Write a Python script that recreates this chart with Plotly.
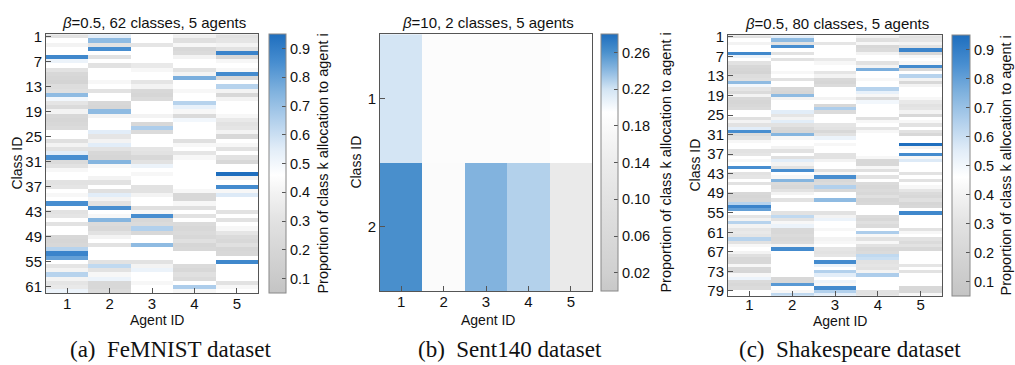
import plotly.graph_objects as go

# ---------------- data ----------------
agents = [1, 2, 3, 4, 5]
femnist_classes = list(range(1, 63))
sent140_classes = [1, 2]
shakespeare_classes = list(range(1, 81))

femnist_ticks = [1, 7, 13, 19, 25, 31, 37, 43, 49, 55, 61]
shakespeare_ticks = [1, 7, 13, 19, 25, 31, 37, 43, 49, 55, 61, 67, 73, 79]
cb_ticks_a = [0.1, 0.2, 0.3, 0.4, 0.5, 0.6, 0.7, 0.8, 0.9]
cb_ticks_b = [0.02, 0.06, 0.10, 0.14, 0.18, 0.22, 0.26]
cb_ticktext_b = ["0.02", "0.06", "0.10", "0.14", "0.18", "0.22", "0.26"]

# FeMNIST: proportion per class (rows) for each agent
femnist_agent1 = [0.30, 0.46, 0.40, 0.46, 0.46, 0.87, 0.52, 0.46, 0.30, 0.22,
                  0.20, 0.18, 0.26, 0.28, 0.72, 0.50, 0.32, 0.24, 0.40, 0.22,
                  0.20, 0.22, 0.24, 0.46, 0.46, 0.28, 0.40, 0.30, 0.55, 0.85,
                  0.24, 0.30, 0.42, 0.46, 0.46, 0.30, 0.32, 0.46, 0.42, 0.46,
                  0.85, 0.46, 0.30, 0.32, 0.46, 0.30, 0.46, 0.46, 0.22, 0.20,
                  0.22, 0.64, 0.88, 0.80, 0.46, 0.32, 0.40, 0.64, 0.40, 0.32,
                  0.34, 0.52]
femnist_agent2 = [0.55, 0.72, 0.30, 0.85, 0.46, 0.30, 0.46, 0.30, 0.46, 0.46,
                  0.46, 0.42, 0.46, 0.30, 0.46, 0.46, 0.22, 0.20, 0.72, 0.40,
                  0.46, 0.46, 0.46, 0.55, 0.32, 0.40, 0.55, 0.30, 0.22, 0.20,
                  0.74, 0.42, 0.46, 0.46, 0.40, 0.30, 0.46, 0.28, 0.55, 0.40,
                  0.30, 0.85, 0.46, 0.42, 0.74, 0.24, 0.22, 0.30, 0.40, 0.46,
                  0.30, 0.46, 0.46, 0.46, 0.30, 0.62, 0.30, 0.42, 0.52, 0.22,
                  0.22, 0.24]
femnist_agent3 = [0.46, 0.46, 0.32, 0.46, 0.46, 0.46, 0.46, 0.34, 0.42, 0.46,
                  0.46, 0.32, 0.40, 0.22, 0.20, 0.24, 0.46, 0.46, 0.46, 0.40,
                  0.46, 0.22, 0.66, 0.24, 0.46, 0.46, 0.46, 0.32, 0.30, 0.22,
                  0.30, 0.52, 0.46, 0.42, 0.46, 0.46, 0.30, 0.30, 0.40, 0.46,
                  0.46, 0.28, 0.42, 0.85, 0.22, 0.24, 0.65, 0.22, 0.46, 0.46,
                  0.72, 0.46, 0.46, 0.46, 0.30, 0.40, 0.52, 0.46, 0.46, 0.42,
                  0.46, 0.46]
femnist_agent4 = [0.38, 0.28, 0.42, 0.22, 0.24, 0.40, 0.46, 0.46, 0.30, 0.40,
                  0.76, 0.46, 0.46, 0.42, 0.46, 0.46, 0.64, 0.53, 0.42, 0.24,
                  0.50, 0.46, 0.46, 0.46, 0.46, 0.28, 0.42, 0.46, 0.32, 0.42,
                  0.46, 0.46, 0.46, 0.46, 0.46, 0.46, 0.46, 0.42, 0.22, 0.22,
                  0.42, 0.28, 0.46, 0.30, 0.46, 0.24, 0.22, 0.24, 0.22, 0.28,
                  0.20, 0.22, 0.46, 0.46, 0.46, 0.24, 0.22, 0.28, 0.24, 0.46,
                  0.66, 0.42]
femnist_agent5 = [0.30, 0.32, 0.40, 0.30, 0.88, 0.22, 0.42, 0.46, 0.42, 0.86,
                  0.22, 0.46, 0.64, 0.40, 0.22, 0.40, 0.46, 0.46, 0.46, 0.42,
                  0.34, 0.30, 0.32, 0.40, 0.22, 0.46, 0.42, 0.30, 0.46, 0.30,
                  0.22, 0.46, 0.46, 0.95, 0.40, 0.46, 0.86, 0.42, 0.56, 0.46,
                  0.46, 0.46, 0.30, 0.46, 0.30, 0.46, 0.42, 0.32, 0.24, 0.22,
                  0.28, 0.20, 0.22, 0.46, 0.87, 0.46, 0.46, 0.46, 0.46, 0.30,
                  0.42, 0.46]

# Sent140: rows = class 1, class 2; columns = agents
sent140_class1 = [0.219, 0.187, 0.187, 0.187, 0.195]
sent140_class2 = [0.261, 0.184, 0.243, 0.229, 0.133]

# Shakespeare
shakespeare_agent1 = [0.30, 0.46, 0.40, 0.46, 0.46, 0.87, 0.52, 0.46, 0.30, 0.22,
                      0.20, 0.18, 0.26, 0.28, 0.72, 0.50, 0.32, 0.24, 0.40, 0.22,
                      0.20, 0.22, 0.24, 0.46, 0.46, 0.28, 0.40, 0.30, 0.55, 0.85,
                      0.24, 0.30, 0.42, 0.46, 0.46, 0.30, 0.32, 0.46, 0.42, 0.46,
                      0.85, 0.46, 0.30, 0.32, 0.46, 0.30, 0.46, 0.46, 0.22, 0.20,
                      0.22, 0.64, 0.88, 0.80, 0.46, 0.32, 0.40, 0.64, 0.40, 0.32,
                      0.34, 0.32, 0.64, 0.30, 0.42, 0.46, 0.40, 0.28, 0.22, 0.22,
                      0.42, 0.22, 0.20, 0.42, 0.52, 0.24, 0.22, 0.24, 0.46, 0.46]
shakespeare_agent2 = [0.55, 0.72, 0.30, 0.85, 0.46, 0.30, 0.46, 0.30, 0.46, 0.46,
                      0.46, 0.42, 0.46, 0.30, 0.46, 0.46, 0.22, 0.20, 0.72, 0.40,
                      0.46, 0.46, 0.46, 0.55, 0.32, 0.40, 0.55, 0.30, 0.22, 0.20,
                      0.74, 0.42, 0.46, 0.46, 0.40, 0.30, 0.46, 0.28, 0.55, 0.40,
                      0.30, 0.85, 0.46, 0.42, 0.74, 0.24, 0.22, 0.30, 0.40, 0.46,
                      0.30, 0.46, 0.46, 0.46, 0.30, 0.62, 0.30, 0.42, 0.52, 0.22,
                      0.22, 0.24, 0.22, 0.24, 0.40, 0.86, 0.46, 0.46, 0.46, 0.46,
                      0.46, 0.46, 0.46, 0.46, 0.22, 0.22, 0.82, 0.46, 0.42, 0.62]
shakespeare_agent3 = [0.46, 0.46, 0.32, 0.46, 0.46, 0.46, 0.46, 0.34, 0.42, 0.46,
                      0.46, 0.32, 0.40, 0.22, 0.20, 0.24, 0.46, 0.46, 0.46, 0.40,
                      0.46, 0.22, 0.66, 0.24, 0.46, 0.46, 0.46, 0.32, 0.30, 0.22,
                      0.30, 0.52, 0.46, 0.42, 0.46, 0.46, 0.30, 0.30, 0.40, 0.46,
                      0.46, 0.28, 0.42, 0.85, 0.22, 0.24, 0.65, 0.22, 0.46, 0.46,
                      0.72, 0.46, 0.46, 0.46, 0.30, 0.40, 0.52, 0.46, 0.46, 0.42,
                      0.46, 0.46, 0.40, 0.42, 0.46, 0.32, 0.30, 0.32, 0.46, 0.86,
                      0.52, 0.46, 0.65, 0.55, 0.46, 0.52, 0.42, 0.86, 0.65, 0.55]
shakespeare_agent4 = [0.38, 0.28, 0.42, 0.22, 0.24, 0.40, 0.46, 0.46, 0.30, 0.40,
                      0.76, 0.46, 0.46, 0.42, 0.46, 0.46, 0.64, 0.53, 0.42, 0.24,
                      0.50, 0.46, 0.46, 0.46, 0.46, 0.28, 0.42, 0.46, 0.32, 0.42,
                      0.46, 0.46, 0.46, 0.46, 0.46, 0.46, 0.46, 0.42, 0.22, 0.22,
                      0.42, 0.28, 0.46, 0.30, 0.46, 0.24, 0.22, 0.24, 0.22, 0.28,
                      0.20, 0.22, 0.46, 0.46, 0.46, 0.24, 0.22, 0.28, 0.24, 0.46,
                      0.66, 0.42, 0.30, 0.42, 0.30, 0.22, 0.24, 0.62, 0.60, 0.30,
                      0.32, 0.30, 0.40, 0.66, 0.46, 0.46, 0.46, 0.46, 0.30, 0.30]
shakespeare_agent5 = [0.30, 0.32, 0.40, 0.30, 0.88, 0.22, 0.42, 0.46, 0.42, 0.86,
                      0.22, 0.46, 0.64, 0.40, 0.22, 0.40, 0.46, 0.46, 0.46, 0.42,
                      0.34, 0.30, 0.32, 0.40, 0.22, 0.46, 0.42, 0.30, 0.46, 0.30,
                      0.22, 0.46, 0.46, 0.95, 0.40, 0.46, 0.86, 0.42, 0.56, 0.46,
                      0.46, 0.46, 0.30, 0.46, 0.30, 0.46, 0.42, 0.32, 0.24, 0.22,
                      0.28, 0.20, 0.22, 0.46, 0.87, 0.46, 0.46, 0.46, 0.46, 0.30,
                      0.42, 0.46, 0.30, 0.24, 0.30, 0.22, 0.46, 0.46, 0.46, 0.46,
                      0.32, 0.46, 0.30, 0.46, 0.46, 0.46, 0.46, 0.22, 0.22, 0.42]

titles = ["<i>β</i>=0.5, 62 classes, 5 agents",
          "<i>β</i>=10, 2 classes, 5 agents",
          "<i>β</i>=0.5, 80 classes, 5 agents"]
captions = ["(a)\u00a0 FeMNIST dataset", "(b)\u00a0 Sent140 dataset",
            "(c)\u00a0 Shakespeare dataset"]
cb_title = "Proportion of class k allocation to agent i"

# ---------------- styling ----------------
W, H = 1015, 365
def px(x):
    return x / W
def py(y):
    return 1 - y / H

scale_a = [[0.0, "rgb(196,196,196)"], [0.1667, "rgb(214,214,214)"],
           [0.2778, "rgb(226,226,226)"], [0.3889, "rgb(243,243,243)"],
           [0.4556, "rgb(255,255,255)"], [0.5556, "rgb(226,237,248)"],
           [0.6667, "rgb(178,208,236)"], [0.7778, "rgb(128,178,222)"],
           [0.8889, "rgb(72,142,208)"], [1.0, "rgb(30,110,190)"]]
scale_b = [[0.0, "rgb(200,200,200)"], [0.0714, "rgb(208,208,208)"],
           [0.357, "rgb(226,226,226)"], [0.5, "rgb(236,236,236)"],
           [0.643, "rgb(250,250,250)"], [0.696, "rgb(255,255,255)"],
           [0.786, "rgb(210,228,244)"], [0.857, "rgb(140,185,225)"],
           [0.929, "rgb(75,145,205)"], [1.0, "rgb(30,110,190)"]]

FONT = "Liberation Sans, Arial, sans-serif"
LINE = "#555555"

# panel geometry (pixels): plot left, right, top, bottom; colorbar left
panels = [
    dict(l=46, r=258, t=28, b=294, cb=269, cbw=17, xstand=-3, agent_y=321.5),
    dict(l=380, r=592, t=28, b=292, cb=601, cbw=17, xstand=-3, agent_y=321.5),
    dict(l=728, r=942, t=29, b=297, cb=952, cbw=18, xstand=-5, agent_y=323),
]

def transpose(cols):
    return [list(r) for r in zip(*cols)]

z_a = transpose([femnist_agent1, femnist_agent2, femnist_agent3, femnist_agent4, femnist_agent5])
z_b = [sent140_class1, sent140_class2]
z_c = transpose([shakespeare_agent1, shakespeare_agent2, shakespeare_agent3,
                 shakespeare_agent4, shakespeare_agent5])

fig = go.Figure()

traces = [
    (z_a, femnist_classes, scale_a, 0.05, 0.95, cb_ticks_a, [f"{v:.1f}" for v in cb_ticks_a]),
    (z_b, sent140_classes, scale_b, 0.0, 0.28, cb_ticks_b, cb_ticktext_b),
    (z_c, shakespeare_classes, scale_a, 0.05, 0.95, cb_ticks_a, [f"{v:.1f}" for v in cb_ticks_a]),
]
ytickvals = [femnist_ticks, sent140_classes, shakespeare_ticks]

for i, (z, ys, cs, zmin, zmax, ctv, ctt) in enumerate(traces):
    p = panels[i]
    sfx = "" if i == 0 else str(i + 1)
    fig.add_trace(go.Heatmap(
        z=z, x=agents, y=ys, colorscale=cs, zmin=zmin, zmax=zmax,
        xaxis="x" + sfx, yaxis="y" + sfx, hoverongaps=False,
        colorbar=dict(
            x=px(p["cb"]), xanchor="left", xpad=0, ypad=0,
            y=(py(p["t"]) + py(p["b"])) / 2, yanchor="middle",
            len=(p["b"] - p["t"]) / H, lenmode="fraction",
            thickness=p["cbw"], thicknessmode="pixels",
            outlinewidth=1, outlinecolor="#888888",
            ticks="inside", ticklen=4, tickcolor=LINE,
            tickvals=ctv, ticktext=ctt,
            tickfont=dict(family=FONT, size=14.5, color="#111111"),
        ),
    ))
    axis_common = dict(showline=True, mirror=True, linecolor=LINE, linewidth=1,
                       ticks="inside", ticklen=5, tickcolor=LINE, showgrid=False,
                       zeroline=False, tickfont=dict(family=FONT, size=15, color="#111111"))
    fig.layout["xaxis" + sfx] = dict(
        domain=[px(p["l"]), px(p["r"])], anchor="y" + sfx,
        tickvals=agents, range=[0.5, 5.5], ticklabelstandoff=p["xstand"], **axis_common)
    fig.layout["yaxis" + sfx] = dict(
        domain=[py(p["b"]), py(p["t"])], anchor="x" + sfx,
        tickvals=ytickvals[i], autorange="reversed", **axis_common)

annotations = []
title_x = [154, 488, 837]
caption_x = [170, 510, 850]
classid_x = [17, 356, 695]
agentid_x = [157, 488, 840]
cbtitle_x = [323, 666, 1006]
for i, p in enumerate(panels):
    annotations.append(dict(x=px(title_x[i]), y=py(p["t"] - 1), xref="paper", yref="paper",
                            text=titles[i], showarrow=False, xanchor="center", yanchor="bottom",
                            font=dict(family=FONT, size=15, color="#111111")))
    annotations.append(dict(x=px(caption_x[i]), y=py(352), xref="paper", yref="paper",
                            text=captions[i], showarrow=False, xanchor="center", yanchor="middle",
                            font=dict(family="Liberation Serif, Times New Roman, serif", size=23,
                                      color="#111111")))
    annotations.append(dict(x=px(classid_x[i]), y=py((p["t"] + p["b"]) / 2), xref="paper",
                            yref="paper", text="Class ID", showarrow=False, textangle=-90,
                            xanchor="center", yanchor="middle",
                            font=dict(family=FONT, size=14, color="#111111")))
    annotations.append(dict(x=px(agentid_x[i]), y=py(p["agent_y"]), xref="paper", yref="paper",
                            text="Agent ID", showarrow=False, xanchor="center", yanchor="middle",
                            font=dict(family=FONT, size=14, color="#111111")))
    annotations.append(dict(x=px(cbtitle_x[i]), y=py((p["t"] + p["b"]) / 2), xref="paper",
                            yref="paper", text=cb_title, showarrow=False, textangle=-90,
                            xanchor="center", yanchor="middle",
                            font=dict(family=FONT, size=14.5, color="#111111")))

fig.update_layout(
    width=W, height=H, margin=dict(l=0, r=0, t=0, b=0),
    paper_bgcolor="white", plot_bgcolor="white",
    annotations=annotations, showlegend=False,
)

fig.write_html("out.html", config={"displayModeBar": False},
               post_script="document.body.style.margin='0';document.body.style.overflow='hidden';")
